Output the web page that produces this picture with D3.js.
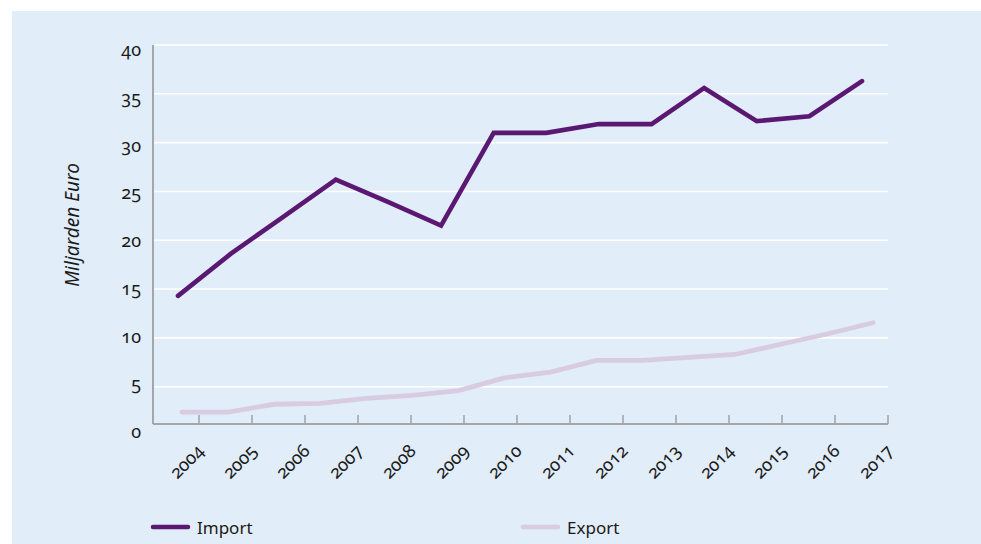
<!DOCTYPE html>
<html>
<head>
<meta charset="utf-8">
<script src="https://cdn.jsdelivr.net/npm/d3@7"></script>
<style>
  body { margin: 0; background: #fff; }
  svg text { font-family: "Noto Sans", "Open Sans", sans-serif; fill: #1a1a1a; font-variant-numeric: oldstyle-nums; }
</style>
</head>
<body>
<svg id="chart" width="981" height="544"></svg>
<script>
// chart values (billion euro)
var years = [2004, 2005, 2006, 2007, 2008, 2009, 2010, 2011, 2012, 2013, 2014, 2015, 2016, 2017];
var importValues = [14.3, 18.6, 22.4, 26.2, 23.9, 21.5, 31.0, 31.0, 31.9, 31.9, 35.6, 32.2, 32.7, 36.3];
// export is drawn with 16 evenly spread points across the same span
var exportValues = [2.4, 2.4, 3.2, 3.3, 3.8, 4.1, 4.6, 5.9, 6.5, 7.7, 7.7, 8.0, 8.3, 9.35, 10.4, 11.55];
var yTicks = [0, 5, 10, 15, 20, 25, 30, 35, 40];
var series = [
  {name: "Import", color: "#5b1872"},
  {name: "Export", color: "#d8cbe2"}
];

var svg = d3.select("#chart");

// panel background
svg.append("rect").attr("x", 12).attr("y", 11).attr("width", 969).attr("height", 533).attr("fill", "#e1edf8");

var y = d3.scaleLinear().domain([0, 40]).range([435.5, 45]);
var yLabel = d3.scaleLinear().domain([0, 40]).range([438, 56]);
var xTick = d3.scaleLinear().domain([2004, 2017]).range([199, 888]);
var xImport = d3.scaleLinear().domain([2004, 2017]).range([178, 862]);
var xExport = d3.scaleLinear().domain([0, exportValues.length - 1]).range([182, 873]);
var axisY = 424, left = 153, right = 888;

// horizontal gridlines
svg.append("g").selectAll("line").data(yTicks.filter(function(d) { return d > 0; }))
  .enter().append("line")
  .attr("x1", left).attr("x2", right)
  .attr("y1", function(d) { return y(d); }).attr("y2", function(d) { return y(d); })
  .attr("stroke", "#fff").attr("stroke-width", 1.6);

// y labels
svg.append("g").selectAll("text").data(yTicks).enter().append("text")
  .attr("x", 141).attr("y", function(d) { return yLabel(d); })
  .attr("text-anchor", "end").attr("font-size", 18)
  .text(function(d) { return d; });

// axes
var axisColor = "#a3a6aa";
svg.append("line").attr("x1", left).attr("x2", left).attr("y1", y(40)).attr("y2", axisY)
  .attr("stroke", axisColor).attr("stroke-width", 2);
svg.append("line").attr("x1", left).attr("x2", right).attr("y1", axisY).attr("y2", axisY)
  .attr("stroke", axisColor).attr("stroke-width", 2);
svg.append("g").selectAll("line").data(years).enter().append("line")
  .attr("x1", function(d) { return xTick(d); }).attr("x2", function(d) { return xTick(d); })
  .attr("y1", axisY - 9).attr("y2", axisY)
  .attr("stroke", axisColor).attr("stroke-width", 1.6);

// x labels, rotated
svg.append("g").selectAll("text").data(years).enter().append("text")
  .attr("text-anchor", "end").attr("font-size", 18)
  .attr("transform", function(d) { return "translate(" + (xTick(d) + 6) + ",452) rotate(-45)"; })
  .text(function(d) { return d; });

// y axis title
svg.append("text").attr("transform", "translate(79,225) rotate(-90)")
  .attr("text-anchor", "middle").attr("font-size", 19).attr("font-style", "italic")
  .text("Miljarden Euro");

// lines
var importLine = d3.line().x(function(d, i) { return xImport(years[i]); }).y(function(d) { return y(d); });
var exportLine = d3.line().x(function(d, i) { return xExport(i); }).y(function(d) { return y(d); });

svg.append("path").datum(exportValues).attr("d", exportLine)
  .attr("fill", "none").attr("stroke", series[1].color).attr("stroke-width", 4.8).attr("stroke-linecap", "round");
svg.append("path").datum(importValues).attr("d", importLine)
  .attr("fill", "none").attr("stroke", series[0].color).attr("stroke-width", 4.6).attr("stroke-linecap", "round");

// legend
var legendX = [153, 523];
var legend = svg.append("g").selectAll("g").data(series).enter().append("g")
  .attr("transform", function(d, i) { return "translate(" + legendX[i] + ",527)"; });
legend.append("line").attr("x1", 0).attr("x2", 35).attr("y1", 0).attr("y2", 0)
  .attr("stroke", function(d) { return d.color; }).attr("stroke-width", 4.5).attr("stroke-linecap", "round");
legend.append("text").attr("x", 44).attr("y", 7).attr("font-size", 17)
  .text(function(d) { return d.name; });
</script>
</body>
</html>
